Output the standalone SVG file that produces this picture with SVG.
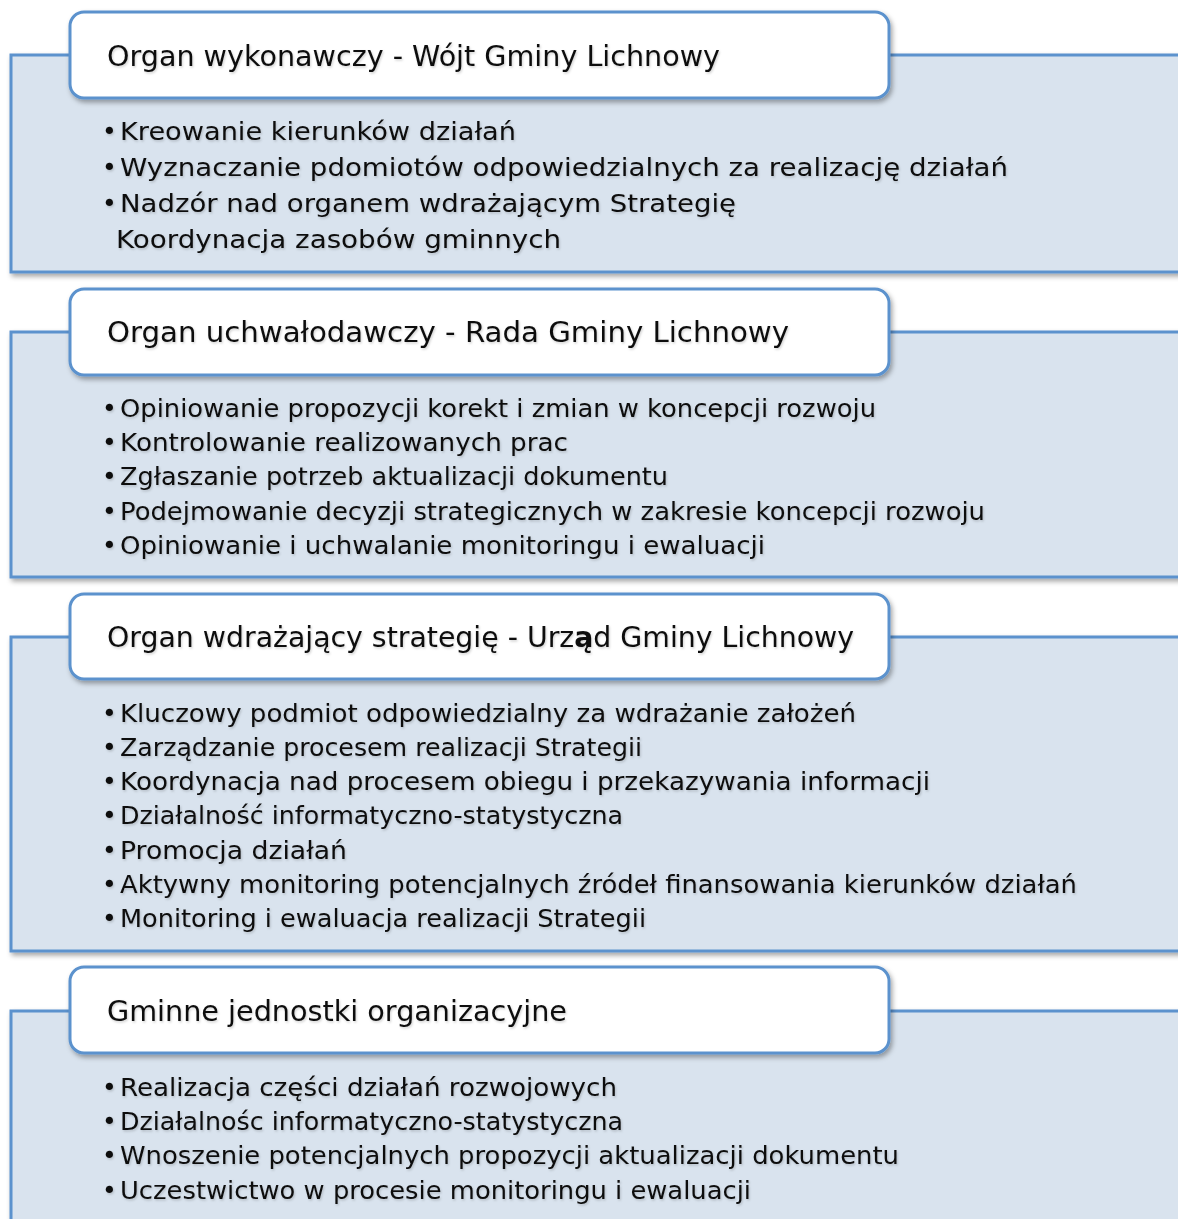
<svg xmlns="http://www.w3.org/2000/svg" width="1178" height="1219" viewBox="0 0 1178 1219">
<defs>
<filter id="sh" x="-5%" y="-10%" width="115%" height="130%">
<feDropShadow dx="2" dy="3" stdDeviation="2.5" flood-color="#000" flood-opacity="0.35"/>
</filter>
<filter id="ts" x="-2%" y="-20%" width="104%" height="150%">
<feDropShadow dx="1" dy="1.5" stdDeviation="1" flood-color="#000" flood-opacity="0.18"/>
</filter>
</defs>
<style>
.panel{fill:#d9e3ee;stroke:#5b92cd;stroke-width:3;filter:url(#sh)}
.head{fill:#ffffff;stroke:#5b92cd;stroke-width:3;filter:url(#sh)}
.ht{font-family:"DejaVu Sans","Noto Sans",sans-serif;font-size:28px;fill:#111;filter:url(#ts)}
.bt{font-family:"DejaVu Sans","Noto Sans",sans-serif;font-size:25px;fill:#111;filter:url(#ts)}
</style>
<rect width="1178" height="1219" fill="#ffffff"/>
<g id="connectors"></g>

<g id="node1">
<rect class="panel" x="11" y="55" width="1175" height="217"/>
<rect class="head" x="70" y="12" width="819" height="86" rx="14"/>
<text class="ht" x="107" y="66" textLength="613" lengthAdjust="spacingAndGlyphs">Organ wykonawczy - Wójt Gminy Lichnowy</text>
<text class="bt" x="102" y="140">•<tspan x="120" textLength="396" lengthAdjust="spacingAndGlyphs">Kreowanie kierunków działań</tspan></text>
<text class="bt" x="102" y="176">•<tspan x="120" textLength="888" lengthAdjust="spacingAndGlyphs">Wyznaczanie pdomiotów odpowiedzialnych za realizację działań</tspan></text>
<text class="bt" x="102" y="212">•<tspan x="120" textLength="616" lengthAdjust="spacingAndGlyphs">Nadzór nad organem wdrażającym Strategię</tspan></text>
<text class="bt" x="116" y="248" textLength="445" lengthAdjust="spacingAndGlyphs">Koordynacja zasobów gminnych</text>
</g>

<g id="node2">
<rect class="panel" x="11" y="332" width="1175" height="245"/>
<rect class="head" x="70" y="289" width="819" height="86" rx="14"/>
<text class="ht" x="107" y="342" textLength="682" lengthAdjust="spacingAndGlyphs">Organ uchwałodawczy - Rada Gminy Lichnowy</text>
<text class="bt" x="102" y="417">•<tspan x="120" textLength="756" lengthAdjust="spacingAndGlyphs">Opiniowanie propozycji korekt i zmian w koncepcji rozwoju</tspan></text>
<text class="bt" x="102" y="451">•<tspan x="120" textLength="448" lengthAdjust="spacingAndGlyphs">Kontrolowanie realizowanych prac</tspan></text>
<text class="bt" x="102" y="485">•<tspan x="120" textLength="548" lengthAdjust="spacingAndGlyphs">Zgłaszanie potrzeb aktualizacji dokumentu</tspan></text>
<text class="bt" x="102" y="520">•<tspan x="120" textLength="865" lengthAdjust="spacingAndGlyphs">Podejmowanie decyzji strategicznych w zakresie koncepcji rozwoju</tspan></text>
<text class="bt" x="102" y="554">•<tspan x="120" textLength="645" lengthAdjust="spacingAndGlyphs">Opiniowanie i uchwalanie monitoringu i ewaluacji</tspan></text>
</g>

<g id="node3">
<rect class="panel" x="11" y="637" width="1175" height="314"/>
<rect class="head" x="70" y="594" width="819" height="85" rx="14"/>
<text class="ht" x="107" y="647" textLength="747" lengthAdjust="spacingAndGlyphs">Organ wdrażający strategię - Urz<tspan font-weight="bold">ą</tspan>d Gminy Lichnowy</text>
<text class="bt" x="102" y="722">•<tspan x="120" textLength="736" lengthAdjust="spacingAndGlyphs">Kluczowy podmiot odpowiedzialny za wdrażanie założeń</tspan></text>
<text class="bt" x="102" y="756">•<tspan x="120" textLength="522" lengthAdjust="spacingAndGlyphs">Zarządzanie procesem realizacji Strategii</tspan></text>
<text class="bt" x="102" y="790">•<tspan x="120" textLength="810" lengthAdjust="spacingAndGlyphs">Koordynacja nad procesem obiegu i przekazywania informacji</tspan></text>
<text class="bt" x="102" y="824">•<tspan x="120" textLength="503" lengthAdjust="spacingAndGlyphs">Działalność informatyczno-statystyczna</tspan></text>
<text class="bt" x="102" y="859">•<tspan x="120" textLength="227" lengthAdjust="spacingAndGlyphs">Promocja działań</tspan></text>
<text class="bt" x="102" y="893">•<tspan x="120" textLength="957" lengthAdjust="spacingAndGlyphs">Aktywny monitoring potencjalnych źródeł finansowania kierunków działań</tspan></text>
<text class="bt" x="102" y="927">•<tspan x="120" textLength="526" lengthAdjust="spacingAndGlyphs">Monitoring i ewaluacja realizacji Strategii</tspan></text>
</g>

<g id="node4">
<rect class="panel" x="11" y="1011" width="1175" height="240"/>
<rect class="head" x="70" y="967" width="819" height="86" rx="14"/>
<text class="ht" x="107" y="1021" textLength="460" lengthAdjust="spacingAndGlyphs">Gminne jednostki organizacyjne</text>
<text class="bt" x="102" y="1096">•<tspan x="120" textLength="497" lengthAdjust="spacingAndGlyphs">Realizacja części działań rozwojowych</tspan></text>
<text class="bt" x="102" y="1130">•<tspan x="120" textLength="503" lengthAdjust="spacingAndGlyphs">Działalnośc informatyczno-statystyczna</tspan></text>
<text class="bt" x="102" y="1164">•<tspan x="120" textLength="779" lengthAdjust="spacingAndGlyphs">Wnoszenie potencjalnych propozycji aktualizacji dokumentu</tspan></text>
<text class="bt" x="102" y="1199">•<tspan x="120" textLength="631" lengthAdjust="spacingAndGlyphs">Uczestwictwo w procesie monitoringu i ewaluacji</tspan></text>
</g>
</svg>
